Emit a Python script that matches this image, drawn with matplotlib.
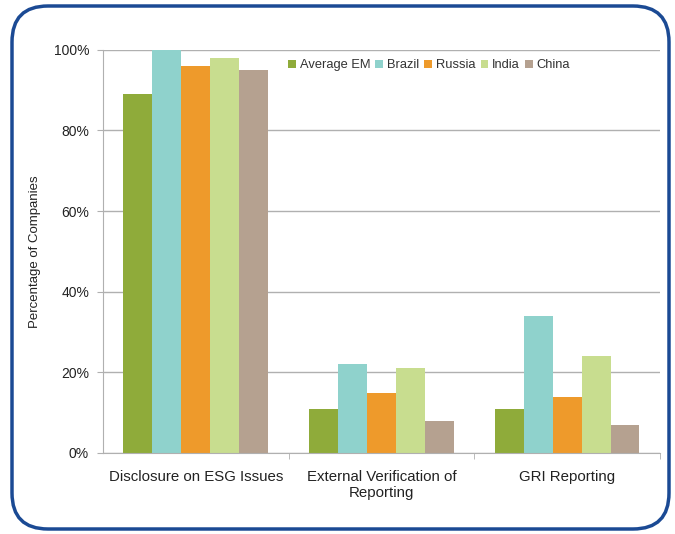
import numpy as np
import matplotlib.pyplot as plt
from matplotlib.patches import FancyBboxPatch
from matplotlib.ticker import FixedLocator, PercentFormatter

plt.rcParams['font.family'] = ['Liberation Sans', 'DejaVu Sans']

# Data
categories = ["Disclosure on ESG Issues", "External Verification of\nReporting", "GRI Reporting"]
series = ["Average EM", "Brazil", "Russia", "India", "China"]
average_em = [89, 11, 11]
brazil = [100, 22, 34]
russia = [96, 15, 14]
india = [98, 21, 24]
china = [95, 8, 7]
colors = ["#8fab3a", "#8fd2cc", "#ee9a2b", "#c8dd8f", "#b5a190"]

fig = plt.figure(figsize=(6.75, 5.34), dpi=100)

# Rounded frame around the whole chart, drawn in pixel units
bg = fig.add_axes([0, 0, 1, 1], zorder=-1)
bg.set_xlim(0, 675)
bg.set_ylim(0, 534)
bg.axis('off')
bg.add_patch(FancyBboxPatch((12, 5), 657, 523,
                            boxstyle="round,pad=0,rounding_size=36",
                            facecolor='white', edgecolor='#1b4a94', linewidth=2.5))

ax = fig.add_axes([0.1526, 0.1517, 0.825, 0.755])
ax.set_facecolor('none')

x = np.arange(len(categories))
width = 0.156
for i, (name, vals) in enumerate(zip(series, [average_em, brazil, russia, india, china])):
    ax.bar(x + (i - 2) * width, vals, width, color=colors[i], label=name, zorder=2)

ax.set_xlim(-0.5, 2.5)
ax.set_ylim(0, 100)
ax.set_yticks(range(0, 101, 20))
ax.yaxis.set_major_formatter(PercentFormatter(decimals=0))
ax.grid(axis='y', color='#b0b0b0', linewidth=1, zorder=0)

ax.set_xticks(x)
ax.set_xticklabels(categories, fontsize=10.8, color='#222222')
ax.xaxis.set_minor_locator(FixedLocator([0.5, 1.5, 2.5]))
ax.tick_params(axis='x', which='major', length=0, pad=12)
ax.tick_params(axis='x', which='minor', length=4, color='#b0b0b0', direction='out')
ax.tick_params(axis='y', length=4, color='#b0b0b0', labelsize=10, labelcolor='#222222', pad=6)

for s in ['top', 'right']:
    ax.spines[s].set_visible(False)
for s in ['left', 'bottom']:
    ax.spines[s].set_color('#b0b0b0')

ax.set_ylabel("Percentage of Companies", fontsize=9.5, color='#222222', labelpad=9)

ax.legend(loc='upper right', bbox_to_anchor=(0.86, 1.005), ncol=5, frameon=False,
          fontsize=9.3, handlelength=0.6, handleheight=0.6, handletextpad=0.3,
          columnspacing=0.4, labelcolor='#333333')

fig.savefig("out.png", dpi=100)
